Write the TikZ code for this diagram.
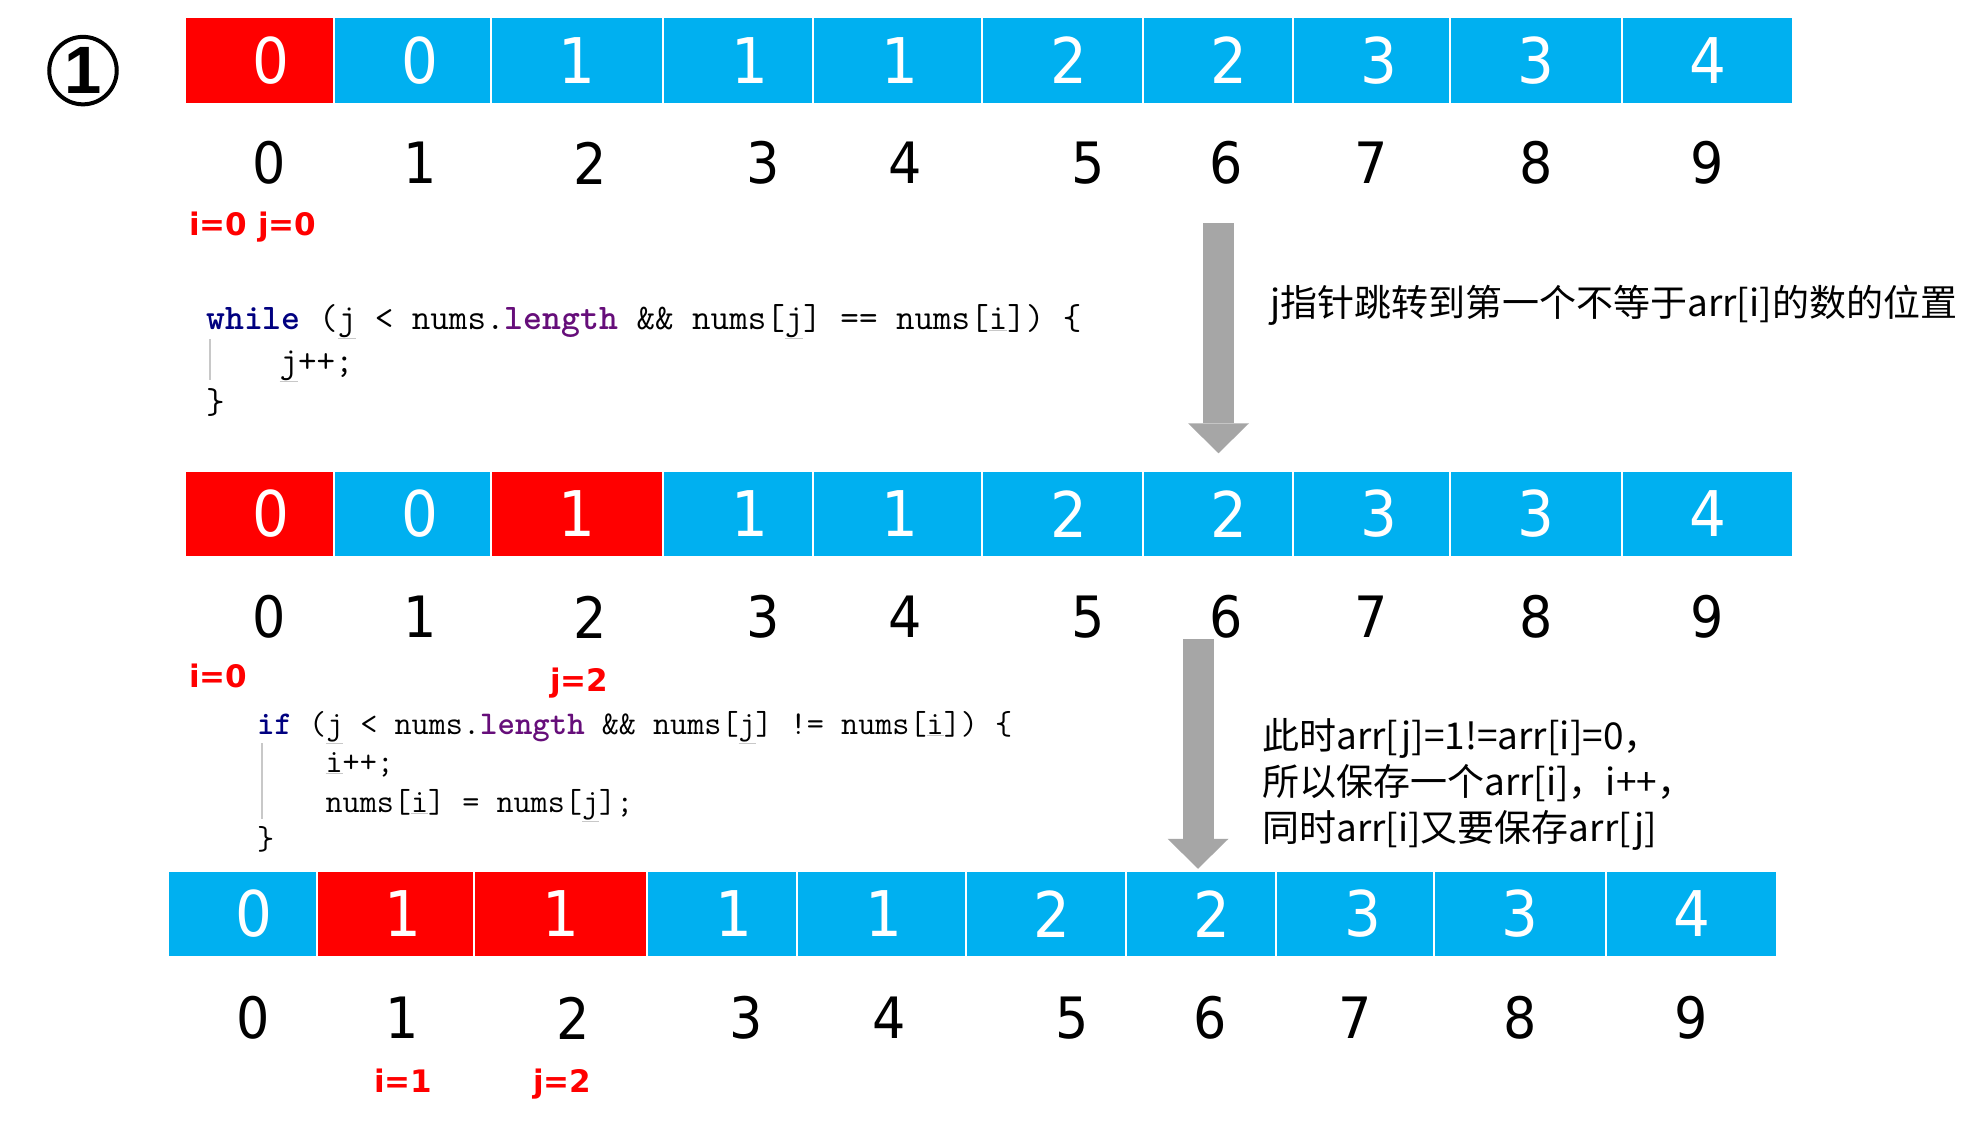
\documentclass[tikz,border=0pt]{standalone}
\usepackage{fontspec}
\usepackage{tikz}
\usetikzlibrary{positioning,arrows.meta}

\newfontfamily\numfont{DejaVu Sans}[FakeStretch=0.92]
\newfontfamily\ptrfont{DejaVu Sans}
\newfontfamily\cnfont{Noto Sans CJK SC}
\newfontfamily\circfont{Liberation Sans}

\definecolor{cellblue}{HTML}{00B0F0}
\definecolor{cellred}{HTML}{FF0000}
\definecolor{ptrred}{HTML}{FF0000}
\definecolor{arrowgray}{HTML}{A6A6A6}
\definecolor{guidegray}{HTML}{C8C8C8}
\definecolor{kwnavy}{HTML}{000080}
\definecolor{fieldpurple}{HTML}{660E7A}

\newcommand{\kw}[1]{\textcolor{kwnavy}{\bfseries #1}}
\newcommand{\fld}[1]{\textcolor{fieldpurple}{\bfseries #1}}
\newcommand{\uv}[1]{\textcolor{guidegray}{\underline{\textcolor{black}{#1}}}}

\begin{document}
\frenchspacing
\begin{tikzpicture}[x=1pt, y=-1pt,
  cell/.style={minimum height=86pt, inner sep=0pt, draw=white, line width=1.5pt, text=white, font=\numfont\fontsize{63}{63}\selectfont},
  bluecell/.style={cell, fill=cellblue},
  redcell/.style={cell, fill=cellred},
  nudge/.style={execute at begin node={\hspace*{#1}}},
  idx/.style={inner sep=0pt, font=\numfont\fontsize{57}{57}\selectfont},
  ptr/.style={anchor=base west, inner sep=0pt, text=ptrred, font=\ptrfont\bfseries\fontsize{31}{31}\selectfont},
  code/.style={anchor=base west, inner sep=0pt, font=\ttfamily\fontsize{36}{36}\selectfont},
  codesmall/.style={code, font=\ttfamily\fontsize{33.2}{33.2}\selectfont},
  note/.style={anchor=base west, inner sep=0pt, font=\cnfont\fontsize{37}{37}\selectfont},
  guide/.style={draw=guidegray, line width=1.2pt},
  jump/.style={draw=arrowgray, line width=31pt, -{Triangle[width=61pt, length=30pt, line width=0pt]}},
  badge/.style={circle, draw, line width=4pt, minimum size=67.5pt, inner sep=0pt, font=\circfont\bfseries\fontsize{67}{67}\selectfont}
]
\useasboundingbox (0,0) rectangle (1978,1124);
\fill[white] (0,0) rectangle (1978,1124);

\node[badge] (S1) at (83,70.6) {1};

% first array
\node[redcell, minimum width=149pt, nudge=22pt] (A0) at (259.5,60.5) {0};
\node[bluecell, minimum width=157pt, nudge=14pt] (A1) at (412.5,60.5) {0};
\node[bluecell, minimum width=172pt] (A2) at (577,60.5) {1};
\node[bluecell, minimum width=150pt, nudge=24pt] (A3) at (738,60.5) {1};
\node[bluecell, minimum width=169pt, nudge=4pt] (A4) at (897.5,60.5) {1};
\node[bluecell, minimum width=161pt, nudge=12pt] (A5) at (1062.5,60.5) {2};
\node[bluecell, minimum width=150pt, nudge=22pt] (A6) at (1218,60.5) {2};
\node[bluecell, minimum width=157pt, nudge=15pt] (A7) at (1371.5,60.5) {3};
\node[bluecell, minimum width=172pt] (A8) at (1536,60.5) {3};
\node[bluecell, minimum width=171pt] (A9) at (1707.5,60.5) {4};

\node[idx] (nA0) at (269,163) {0};
\node[idx] (nA1) at (420,163) {1};
\node[idx] (nA2) at (590,163) {2};
\node[idx] (nA3) at (763,163) {3};
\node[idx] (nA4) at (905,163) {4};
\node[idx] (nA5) at (1088,163) {5};
\node[idx] (nA6) at (1226,163) {6};
\node[idx] (nA7) at (1371,163) {7};
\node[idx] (nA8) at (1536,163) {8};
\node[idx] (nA9) at (1707,163) {9};

\node[ptr] (pA) at (189,235) {i=0 j=0};

\node[code] (w1) at (206,329) {\kw{while} (\uv{j} < nums.\fld{length} \&\& nums[\uv{j}] == nums[\uv{i}]) \{};
\node[code] (w2) at (279.4,372) {\uv{j}++;};
\node[code] (w3) at (206,413) {\}};
\draw[guide] (210,339) -- (210,380);

\node[note] (T1) at (1270,316) {j指针跳转到第一个不等于arr[i]的数的位置};

% second array
\node[redcell, minimum width=149pt, nudge=22pt] (B0) at (259.5,514) {0};
\node[bluecell, minimum width=157pt, nudge=14pt] (B1) at (412.5,514) {0};
\node[redcell, minimum width=172pt] (B2) at (577,514) {1};
\node[bluecell, minimum width=150pt, nudge=24pt] (B3) at (738,514) {1};
\node[bluecell, minimum width=169pt, nudge=4pt] (B4) at (897.5,514) {1};
\node[bluecell, minimum width=161pt, nudge=12pt] (B5) at (1062.5,514) {2};
\node[bluecell, minimum width=150pt, nudge=22pt] (B6) at (1218,514) {2};
\node[bluecell, minimum width=157pt, nudge=15pt] (B7) at (1371.5,514) {3};
\node[bluecell, minimum width=172pt] (B8) at (1536,514) {3};
\node[bluecell, minimum width=171pt] (B9) at (1707.5,514) {4};

\node[idx] (nB0) at (269,617) {0};
\node[idx] (nB1) at (420,617) {1};
\node[idx] (nB2) at (590,617) {2};
\node[idx] (nB3) at (763,617) {3};
\node[idx] (nB4) at (905,617) {4};
\node[idx] (nB5) at (1088,617) {5};
\node[idx] (nB6) at (1226,617) {6};
\node[idx] (nB7) at (1371,617) {7};
\node[idx] (nB8) at (1536,617) {8};
\node[idx] (nB9) at (1707,617) {9};

\node[ptr] (pBi) at (189,687) {i=0};
\node[ptr] (pBj) at (550,691) {j=2};

\node[codesmall] (f1) at (257,734) {\kw{if} (\uv{j} < nums.\fld{length} \&\& nums[\uv{j}] != nums[\uv{i}]) \{};
\node[codesmall] (f2) at (325.4,772) {\uv{i}++;};
\node[codesmall] (f3) at (325.4,812) {nums[\uv{i}] = nums[\uv{j}];};
\node[codesmall] (f4) at (257,849) {\}};
\draw[guide] (262,743) -- (262,819);

\node[note] (T2) at (1262,749) {此时arr[j]=1!=arr[i]=0，};
\node[note] (T3) at (1262,795) {所以保存一个arr[i]，i++，};
\node[note] (T4) at (1262,841) {同时arr[i]又要保存arr[j]};

% third array
\node[bluecell, minimum width=149pt, nudge=22pt] (C0) at (242.5,914) {0};
\node[redcell, minimum width=157pt, nudge=14pt] (C1) at (395.5,914) {1};
\node[redcell, minimum width=173pt] (C2) at (560.5,914) {1};
\node[bluecell, minimum width=150pt, nudge=24pt] (C3) at (722,914) {1};
\node[bluecell, minimum width=169pt, nudge=4pt] (C4) at (881.5,914) {1};
\node[bluecell, minimum width=160pt, nudge=12pt] (C5) at (1046,914) {2};
\node[bluecell, minimum width=150pt, nudge=22pt] (C6) at (1201,914) {2};
\node[bluecell, minimum width=158pt, nudge=15pt] (C7) at (1355,914) {3};
\node[bluecell, minimum width=172pt] (C8) at (1520,914) {3};
\node[bluecell, minimum width=171pt] (C9) at (1691.5,914) {4};

\node[idx] (nC0) at (253,1018) {0};
\node[idx] (nC1) at (402,1018) {1};
\node[idx] (nC2) at (573,1018) {2};
\node[idx] (nC3) at (746,1018) {3};
\node[idx] (nC4) at (889,1018) {4};
\node[idx] (nC5) at (1072,1018) {5};
\node[idx] (nC6) at (1210,1018) {6};
\node[idx] (nC7) at (1355,1018) {7};
\node[idx] (nC8) at (1520,1018) {8};
\node[idx] (nC9) at (1691,1018) {9};

\node[ptr] (pCi) at (374,1092) {i=1};
\node[ptr] (pCj) at (533,1092) {j=2};

% jumps
\coordinate (J1) at (1218.5,223);
\draw[jump, shorten >=17pt] (J1) -- (J1 |- B6.north);
\coordinate (J2) at (1198,639);
\draw[jump, shorten >=1.5pt] (J2) -- (J2 |- C6.north);
\end{tikzpicture}
\end{document}
